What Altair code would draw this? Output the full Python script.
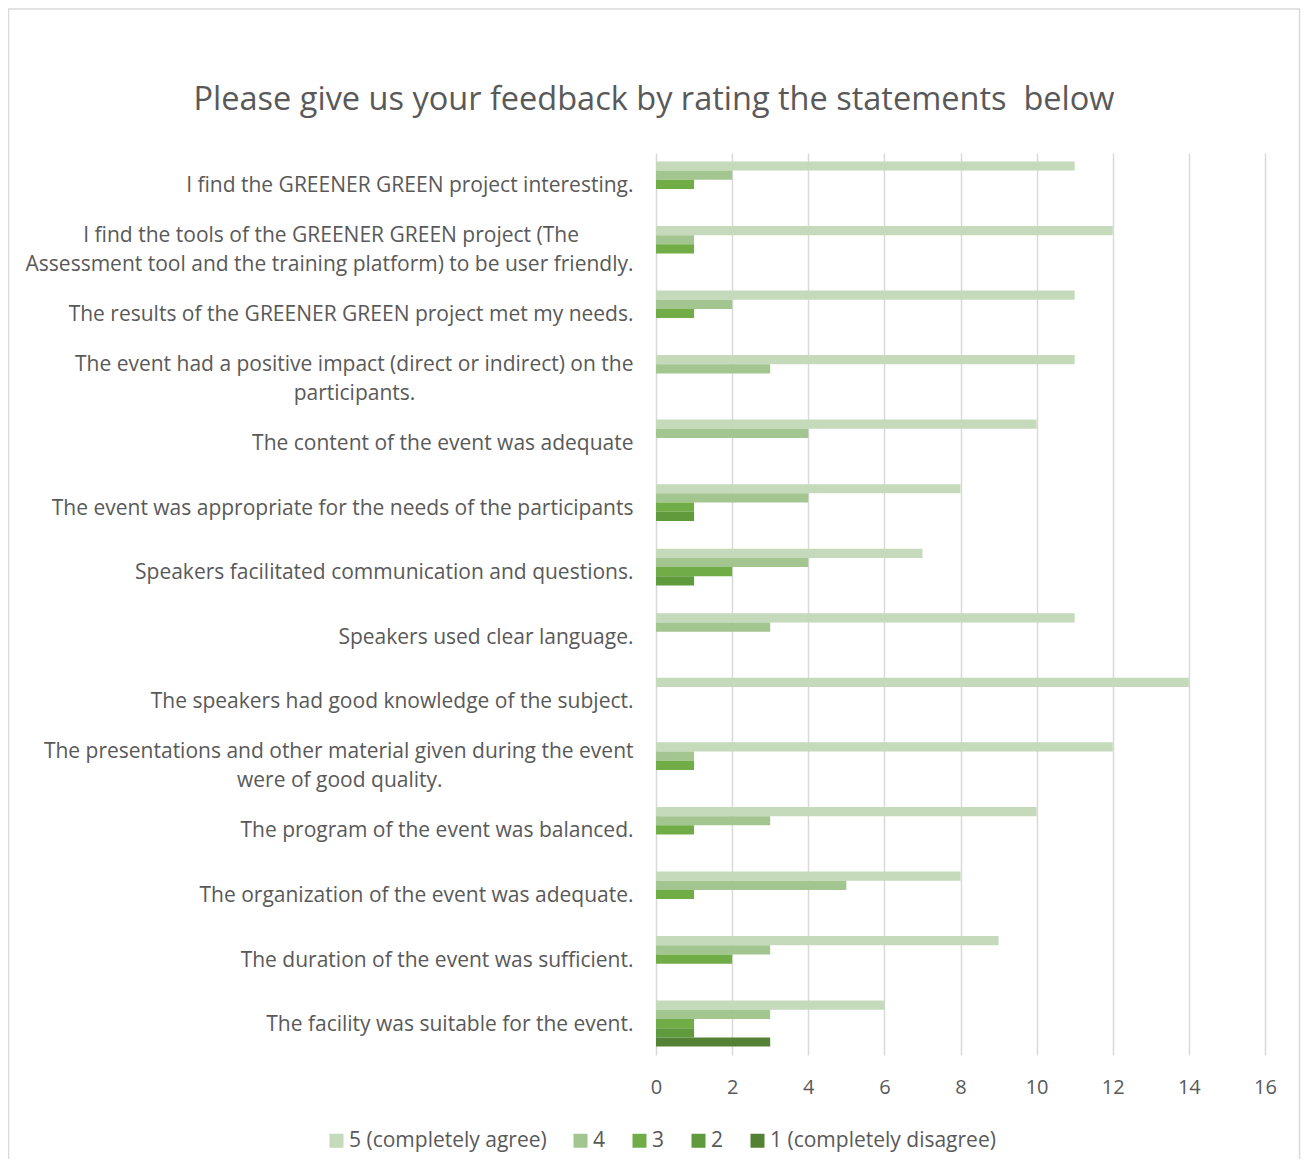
import altair as alt
import pandas as pd

TITLE = "Please give us your feedback by rating the statements \u00a0below"

CATEGORIES = [
    "I find the GREENER GREEN project interesting.",
    "I find the tools of the GREENER GREEN project (The\nAssessment tool and the training platform) to be user friendly.",
    "The results of the GREENER GREEN project met my needs.",
    "The event had a positive impact (direct or indirect) on the\nparticipants.",
    "The content of the event was adequate",
    "The event was appropriate for the needs of the participants",
    "Speakers facilitated communication and questions.",
    "Speakers used clear language.",
    "The speakers had good knowledge of the subject.",
    "The presentations and other material given during the event\nwere of good quality.",
    "The program of the event was balanced.",
    "The organization of the event was adequate.",
    "The duration of the event was sufficient.",
    "The facility was suitable for the event.",
]

SERIES = ["5 (completely agree)", "4", "3", "2", "1 (completely disagree)"]

R5 = [11, 12, 11, 11, 10, 8, 7, 11, 14, 12, 10, 8, 9, 6]
R4 = [2, 1, 2, 3, 4, 4, 4, 3, 0, 1, 3, 5, 3, 3]
R3 = [1, 1, 1, 0, 0, 1, 2, 0, 0, 1, 1, 1, 2, 1]
R2 = [0, 0, 0, 0, 0, 1, 1, 0, 0, 0, 0, 0, 0, 1]
R1 = [0, 0, 0, 0, 0, 0, 0, 0, 0, 0, 0, 0, 0, 3]

X_TICKS = [0, 2, 4, 6, 8, 10, 12, 14, 16]

# ---- styling ----
COLORS = ["#C5D9BB", "#A3C58F", "#70AD47", "#5F9A3C", "#548235"]
TEXT = "#595959"
GRID = "#D9D9D9"
FONT = "Open Sans"

# centre the shorter line of two-line labels (no-break-space padding,
# closed by an invisible word joiner so it is not trimmed)
LINE_PAD = {1: (0, 10), 3: (1, 40), 9: (1, 35)}


def padded(i, cat):
    if i not in LINE_PAD:
        return cat
    li, n = LINE_PAD[i]
    lines = cat.split("\n")
    lines[li] = lines[li] + "\u00a0" * n + "\u2060"
    return "\n".join(lines)


labels = [padded(i, c) for i, c in enumerate(CATEGORIES)]

rows = []
for i, lab in enumerate(labels):
    for s, vals in zip(SERIES, [R5, R4, R3, R2, R1]):
        rows.append({"statement": lab, "rating": s, "count": vals[i]})
df = pd.DataFrame(rows)

bars = alt.Chart(df).mark_bar().encode(
    x=alt.X(
        "count:Q",
        scale=alt.Scale(domain=[0, 16], nice=False),
        axis=alt.Axis(
            values=X_TICKS, title=None, grid=True, gridColor=GRID, gridWidth=1.5,
            domain=False, ticks=False, labelFontSize=20, labelColor=TEXT,
            labelPadding=22, labelFont=FONT, labelFlush=False,
        ),
    ),
    y=alt.Y(
        "statement:N",
        sort=labels,
        scale=alt.Scale(paddingInner=0.287, paddingOuter=0.13),
        axis=alt.Axis(
            title=None, domain=False, ticks=False, grid=False,
            labelExpr="split(datum.label, '\\n')", labelFontSize=21,
            labelLineHeight=29, labelColor=TEXT, labelPadding=23,
            labelLimit=900, labelAlign="right", labelFont=FONT,
            labelOffset={
                "condition": {"test": "indexof(datum.value, '\\n') >= 0", "value": -13},
                "value": 1.5,
            },
        ),
    ),
    yOffset=alt.YOffset("rating:N", sort=SERIES, scale=alt.Scale(paddingInner=0, paddingOuter=0)),
    color=alt.Color(
        "rating:N",
        sort=SERIES,
        scale=alt.Scale(domain=SERIES, range=COLORS),
        legend=alt.Legend(
            title=None, orient="none", legendX=-330, legendY=977,
            direction="horizontal", symbolType="square", symbolSize=196,
            symbolStrokeWidth=0, symbolOpacity=1, labelFontSize=21,
            labelColor=TEXT, labelFont=FONT, columnPadding=23, labelOffset=2,
            labelLimit=400,
        ),
    ),
)

frame = alt.Chart(pd.DataFrame({"f": [0]})).mark_rect(
    fillOpacity=0, stroke=GRID, strokeWidth=1.5
).encode(
    x=alt.value(-647.5), x2=alt.value(643.5), y=alt.value(-144), y2=alt.value(1030)
)

chart = alt.layer(frame, bars).properties(
    width=609,
    height=902,
    title=alt.TitleParams(
        TITLE, anchor="middle", frame="bounds", fontSize=32.5, color=TEXT,
        font=FONT, fontWeight="normal", offset=-108,
    ),
    autosize=alt.AutoSizeParams(type="none"),
    padding={"left": 648, "top": 145, "right": 36, "bottom": 104},
).configure_view(strokeWidth=0)

chart.save("out.html", embed_options={"renderer": "svg", "actions": False})
